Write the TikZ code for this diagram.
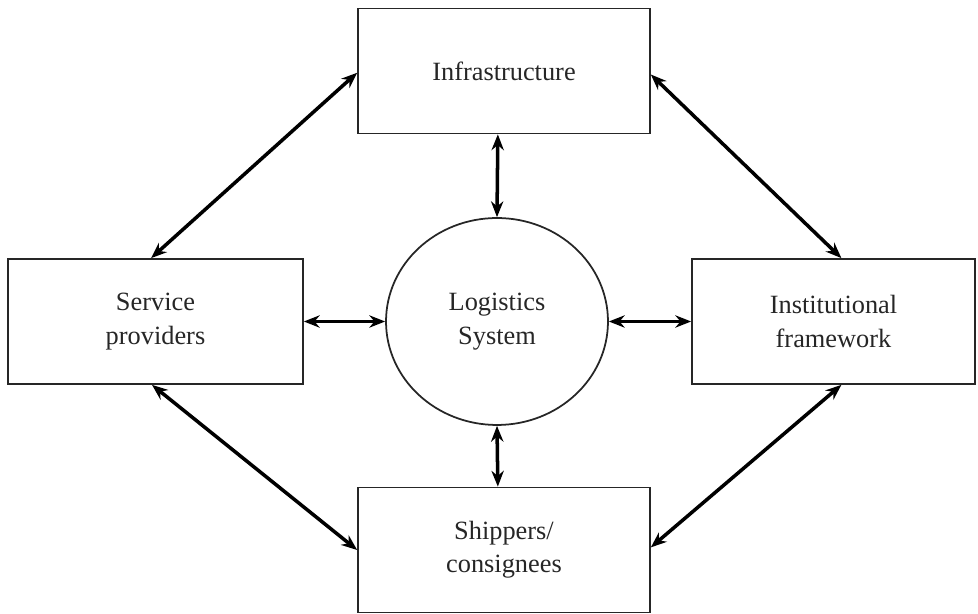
\documentclass[tikz,border=0pt]{standalone}
\usepackage{fontspec}
\setmainfont{Liberation Serif}
\usetikzlibrary{arrows.meta,shapes.geometric}
\begin{document}
\begin{tikzpicture}[
		  x=0.02cm, y=-0.02cm,
		  every node/.style={font=\fontsize{15}{19}\selectfont, align=center, text=black!85}
		]

		\tikzset{
		    caixa/.style={draw=black!85, line width=1pt, minimum height=2.5cm, inner sep=2pt},
		    elipse/.style={draw=black!85, line width=1pt, ellipse, minimum width=4.44cm, minimum height=4.14cm, inner sep=0pt},
		    liga/.style={{Stealth[length=9pt,width=7pt]}-{Stealth[length=9pt,width=7pt]}, line width=2pt}
		}

		\useasboundingbox (0,0) rectangle (978,614);

		% Centro
		\node[elipse] (LS) at (497,321.5) {Logistics\\System};

		% Caixas
		\node[caixa, minimum width=5.84cm] (INF) at (504,71) {Infrastructure};
		\node[caixa, minimum width=5.9cm] (SP) at (155.5,321.5) {Service\\providers};
		\node[caixa, minimum width=5.66cm] (IF) at (833.5,321.5) {Institutional\\framework};
		\node[caixa, minimum width=5.84cm] (SC) at (504,550) {Shippers/\\consignees};

		% setas ao centro
		\draw[liga] ([xshift=-3.5pt]INF.south) -- (LS.north);
		\draw[liga] ([xshift=-3.5pt]SC.north) -- (LS.south);
		\draw[liga] (SP.east) -- (LS.west);
		\draw[liga] (LS.east) -- (IF.west);

		% setas diagonais
		\draw[liga] ([xshift=-2.5pt]SP.north) -- ([yshift=-1pt]INF.west);
		\draw[liga] ([yshift=-2pt]INF.east) -- ([xshift=4.5pt]IF.north);
		\draw[liga] ([xshift=-2pt]SP.south) -- (SC.west);
		\draw[liga] ([xshift=4.5pt]IF.south) -- ([yshift=1.5pt]SC.east);

		\end{tikzpicture}
\end{document}
